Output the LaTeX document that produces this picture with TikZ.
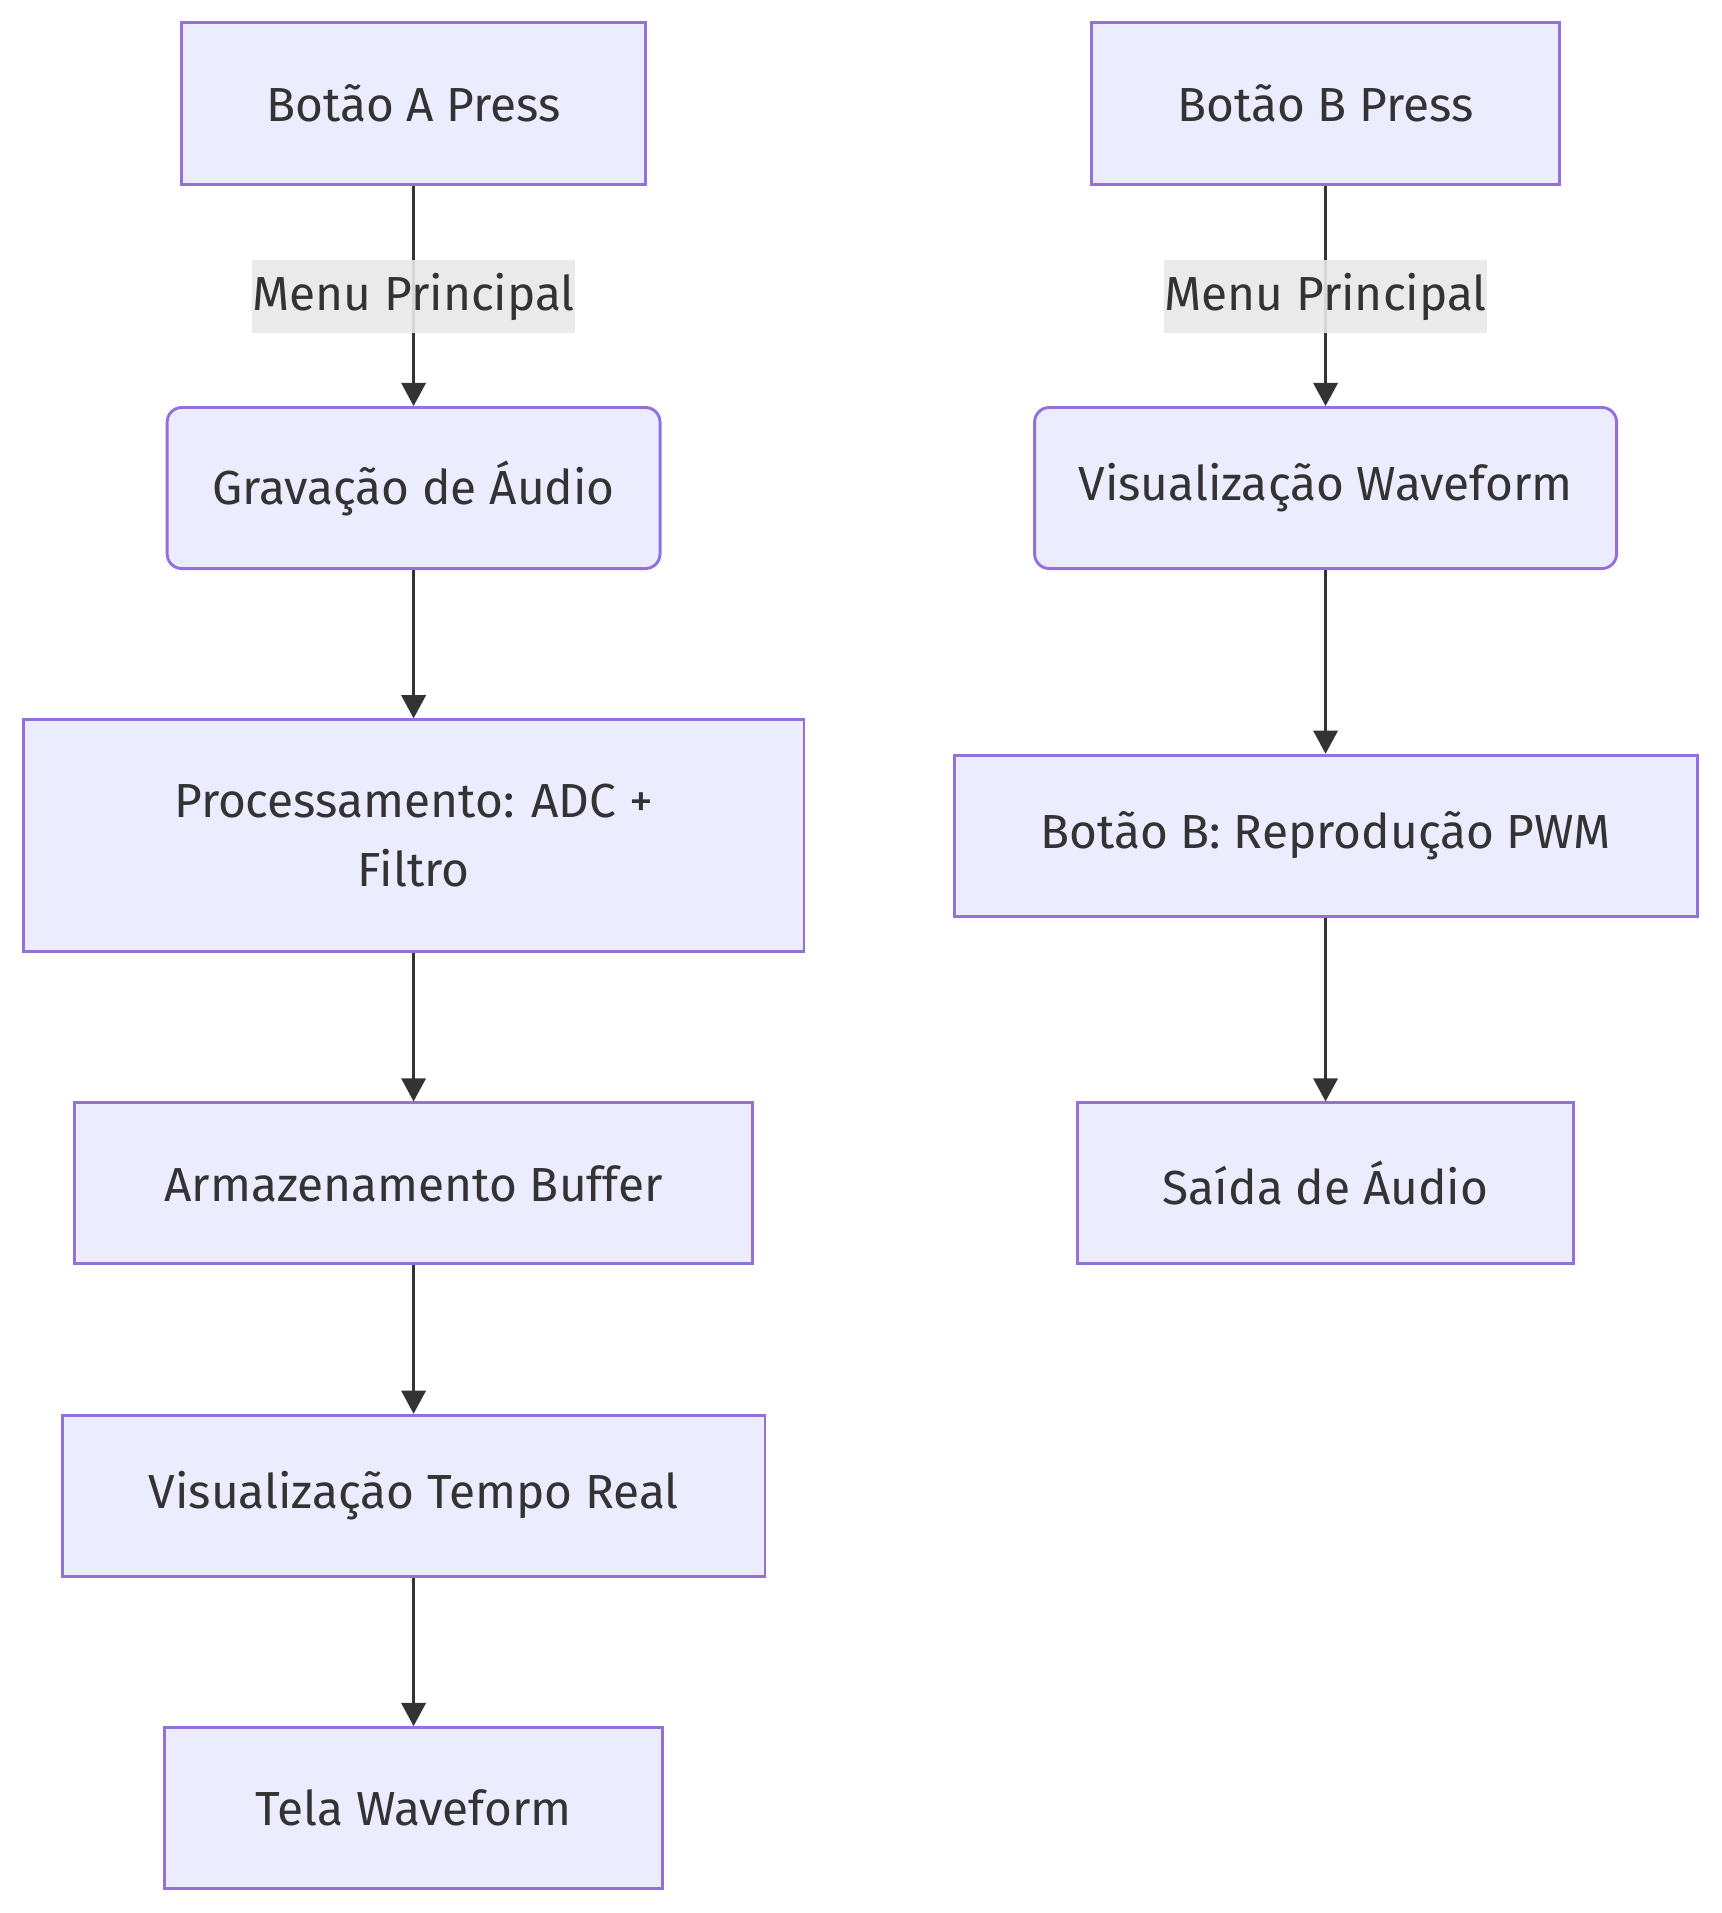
\documentclass[tikz,border=0pt]{standalone}
\usepackage{fontspec}
\setmainfont{Fira Sans}
\usetikzlibrary{arrows.meta}

\definecolor{boxfill}{HTML}{ECECFF}
\definecolor{boxline}{HTML}{9370DB}
\definecolor{ink}{HTML}{333333}
\definecolor{lblfill}{HTML}{E8E8E8}

\tikzset{
  stepbox/.style={draw=boxline, fill=boxfill, line width=1.2pt, text=ink,
    font=\fontsize{19.6}{28.5}\selectfont, align=center, inner sep=0pt},
  roundbox/.style={stepbox, rounded corners=6pt},
  flow/.style={draw=ink, line width=1pt, -{Triangle[length=9.5pt,width=10pt]}},
  lbl/.style={fill=lblfill, fill opacity=0.9, text opacity=1, text=ink,
    font=\fontsize{19.6}{28.5}\selectfont, inner sep=0pt, minimum width=129pt, minimum height=30pt}
}

\begin{document}
\begin{tikzpicture}[x=0.5pt,y=-0.5pt]
\useasboundingbox (0,0) rectangle (1411,1568);

% left column
\node[stepbox, minimum width=190pt, minimum height=66.5pt] (btnA) at (339,85) {Botão A Press};
\node[roundbox, minimum width=202pt, minimum height=66pt] (grav) at (339,400) {Gravação de Áudio};
\node[stepbox, minimum width=320pt, minimum height=95pt] (proc) at (339,685) {Processamento: ADC +\\Filtro};
\node[stepbox, minimum width=278pt, minimum height=66pt] (arm) at (339,970) {Armazenamento Buffer};
\node[stepbox, minimum width=288pt, minimum height=66pt] (vtr) at (339,1226) {Visualização Tempo Real};
\node[stepbox, minimum width=204pt, minimum height=66pt] (tela) at (339,1482) {Tela Waveform};

% right column
\node[stepbox, minimum width=191.5pt, minimum height=66.5pt] (btnB) at (1086.5,85) {Botão B Press};
\node[roundbox, minimum width=238.5pt, minimum height=66pt] (vwave) at (1086.5,400) {Visualização Waveform};
\node[stepbox, minimum width=304.5pt, minimum height=66pt] (repr) at (1086.5,685) {Botão B: Reprodução PWM};
\node[stepbox, minimum width=203.5pt, minimum height=66pt] (saida) at (1086.5,970) {Saída de Áudio};

% connectors
\draw[flow] (btnA) -- (grav);
\draw[flow] (grav) -- (proc);
\draw[flow] (proc) -- (arm);
\draw[flow] (arm) -- (vtr);
\draw[flow] (vtr) -- (tela);
\draw[flow] (btnB) -- (vwave);
\draw[flow] (vwave) -- (repr);
\draw[flow] (repr) -- (saida);

% edge labels
\node[lbl] (menuA) at (339,243) {Menu Principal};
\node[lbl] (menuB) at (1086.5,243) {Menu Principal};

\end{tikzpicture}
\end{document}
